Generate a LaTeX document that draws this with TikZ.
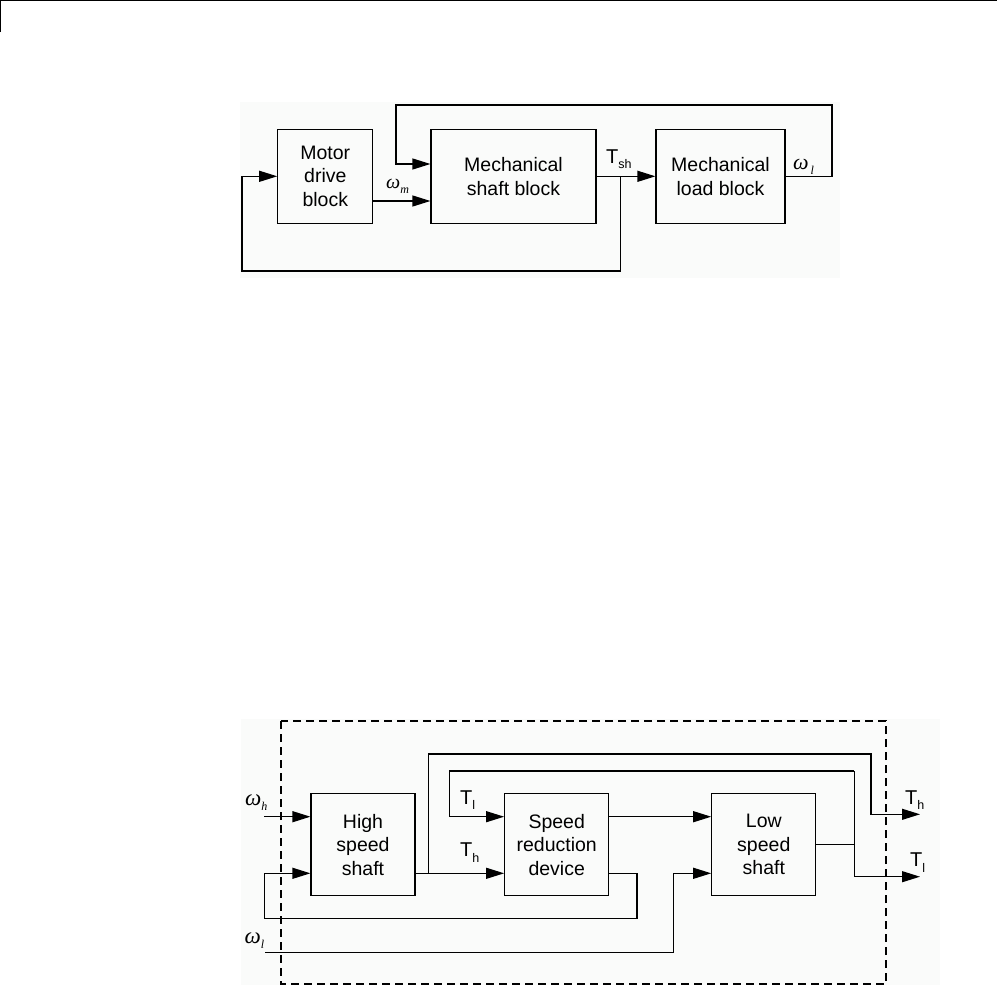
\documentclass[tikz,border=0pt]{standalone}
\usepackage{fontspec}
\setmainfont{Liberation Sans}
\newfontfamily\omegafont{Liberation Serif}
\usetikzlibrary{arrows.meta}
\newcommand\omsym[2][21]{{\omegafont\itshape\fontsize{#1}{#1}\selectfont ω}\raisebox{-5pt}{\omegafont\itshape\fontsize{12}{12}\selectfont #2}}
\newcommand\tsym[1]{T\raisebox{-5.5pt}{\fontsize{12.5}{12.5}\selectfont #1}}
\tikzset{
  blk/.style={draw, line width=1.2pt, minimum height=94pt, align=center,
              font=\fontsize{19.5}{23.5}\selectfont, inner sep=0pt},
  bblk/.style={blk, minimum width=104pt, minimum height=102pt},
  wire/.style={line width=1.2pt},
  arr/.style={wire, -{Triangle[length=18pt,width=11pt]}},
  lbl/.style={font=\fontsize{20}{24}\selectfont, inner sep=0pt, anchor=base west},
  bgfill/.style={fill={rgb,255:red,250;green,251;blue,250}, draw=none},
}
\begin{document}
\begin{tikzpicture}[x=1pt,y=-1pt]
\useasboundingbox (0,0) rectangle (997,985);
% page frame corner
\draw[line width=1.2pt] (0.6,32) -- (0.6,0.6) -- (997,0.6);
% light backgrounds
\path[bgfill] (240,102) rectangle (840,278);
\path[bgfill] (241,719) rectangle (940,985);

% ---------------- top diagram ----------------
\node[blk, minimum width=95pt] (motor) at (325.3,176.3) {Motor\\drive\\block};
\node[blk, minimum width=165pt] (shaft) at (513.5,176.3) {Mechanical\\shaft block};
\node[blk, minimum width=129pt] (load) at (720.5,176.3) {Mechanical\\load block};

\coordinate (wmy) at (0,201);
\coordinate (fby) at (0,164);
\coordinate (tr) at (832,105);
\coordinate (tl) at (396,105);
\coordinate (br) at (620.7,271);
\coordinate (bl) at (242,271);
\coordinate (tsh) at (620.7,176.3);

\draw[arr] (motor.east |- wmy) -- (shaft.west |- wmy);
\draw[arr] (shaft.east) -- (load.west);
\draw[arr] (load.east) -| (tr) -- (tl) |- (shaft.west |- fby);
\draw[arr] (tsh) -- (br) -- (bl) |- (motor.west);

\node[lbl] (lwm) at (386,188.5) {\omsym[20]{m}};
\node[lbl] (ltsh) at (606,163) {\tsym{sh}};
\node[lbl] (lwl) at (793,169) {\omsym[22]{\,l}};

% ---------------- bottom diagram ----------------
\draw[wire, dash pattern=on 8pt off 5pt] (281,721) rectangle (886,984);

\node[bblk] (hss) at (363,844.7) {High\\speed\\shaft};
\node[bblk] (srd) at (556.7,844.7) {Speed\\reduction\\device};
\node[bblk] (lss) at (763.8,844.7) {Low\\speed\\shaft};

\coordinate (uy) at (0,816.7);
\coordinate (ly) at (0,873.3);
\coordinate (whin) at (264,816.7);
\coordinate (fbr) at (637,873.3);
\coordinate (fbrb) at (637,918.3);
\coordinate (fblb) at (264.3,918.3);
\coordinate (hbr) at (428.3,873.3);
\coordinate (hbt) at (428.3,754);
\coordinate (thr) at (871,754);
\coordinate (thout) at (920,814.3);
\coordinate (jn) at (854.3,844.3);
\coordinate (jt) at (854.3,771);
\coordinate (tlt) at (449.3,771);
\coordinate (tlout) at (920,876.7);
\coordinate (wlin) at (265,952.7);
\coordinate (wlb) at (673.7,952.7);

\draw[arr] (whin) -- (hss.west |- uy);
\draw[arr] (srd.east |- ly) -- (fbr) -- (fbrb) -- (fblb) |- (hss.west |- ly);
\draw[arr] (hss.east |- ly) -- (srd.west |- ly);
\draw[arr] (hbr) -- (hbt) -- (thr) |- (thout);
\draw[wire] (lss.east |- jn) -- (jn);
\draw[arr] (jt) |- (tlout);
\draw[arr] (jt) -- (tlt) |- (srd.west |- uy);
\draw[arr] (srd.east |- uy) -- (lss.west |- uy);
\draw[arr] (wlin) -- (wlb) |- (lss.west |- ly);

\node[lbl] (lwh) at (245,805.7) {\omsym[23]{h}};
\node[lbl] (lwl2) at (244.5,943) {\omsym[23]{l}};
\node[lbl] (ltl) at (460,804.3) {\tsym{l}};
\node[lbl] (lth) at (460,856.7) {\tsym{h}};
\node[lbl] (lthr) at (905,804.3) {\tsym{h}};
\node[lbl] (ltlr) at (910,866.7) {\tsym{l}};
\end{tikzpicture}
\end{document}
